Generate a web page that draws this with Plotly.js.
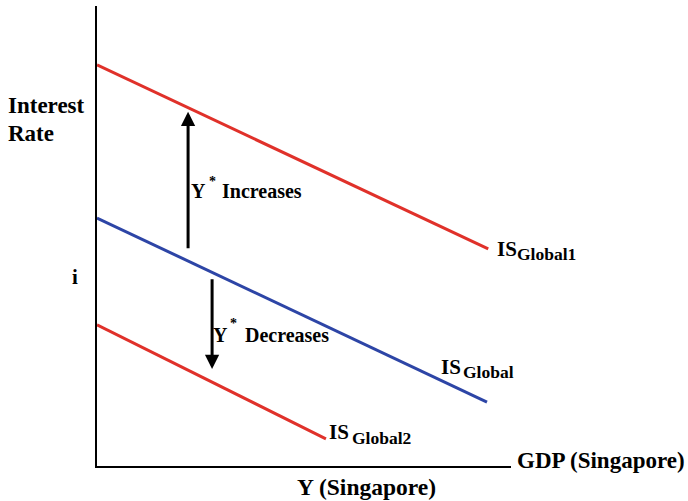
<!DOCTYPE html>
<html>
<head>
<meta charset="utf-8">
<script src="https://cdn.plot.ly/plotly-3.0.1.min.js"></script>
<style>html,body{margin:0;padding:0;background:#fff;}#chart{width:688px;height:501px;}</style>
</head>
<body>
<div id="chart"></div>
<script>
// Curve endpoints (conceptual units)
var isGlobal1X = [0, 9.45];
var isGlobal1Y = [8.72, 4.72];
var isGlobalX = [0, 9.42];
var isGlobalY = [5.39, 1.39];
var isGlobal2X = [0, 5.53];
var isGlobal2Y = [3.07, 0.59];

// Shift arrows: [x, tailY, tipY]
var upArrow = [2.2, 4.70, 7.70];
var downArrow = [2.78, 4.09, 2.11];

// Labels
var curveMain = ['IS', 'IS', 'IS'];
var curveSubs = ['Global1', 'Global', 'Global2'];
var yAxisLabel = ['Interest', 'Rate'];
var xAxisLabelRight = 'GDP (Singapore)';
var xAxisLabelBottom = 'Y (Singapore)';
var rateLabel = 'i';
var shiftWords = ['Increases', 'Decreases'];

var RED = '#e0312a', BLUE = '#2d45a6';
var FONT = 'Liberation Serif, Times New Roman, serif';

var traces = [
  {x: isGlobal1X, y: isGlobal1Y, mode: 'lines', line: {color: RED, width: 3}, hoverinfo: 'skip'},
  {x: isGlobalX, y: isGlobalY, mode: 'lines', line: {color: BLUE, width: 3}, hoverinfo: 'skip'},
  {x: isGlobal2X, y: isGlobal2Y, mode: 'lines', line: {color: RED, width: 3}, hoverinfo: 'skip'}
];

// label positions given in plot-fraction units (paper), may lie outside the plot area
function txt(t, x, y, size, xanchor) {
  return {text: '<b>' + t + '</b>', x: x, y: y, xref: 'paper', yref: 'paper', showarrow: false,
          xanchor: xanchor || 'left', yanchor: 'middle', borderpad: 0, borderwidth: 0,
          font: {family: FONT, size: size, color: '#000'}};
}
function arrow(a) {
  return {text: '', x: a[0], y: a[2], ax: a[0], ay: a[1], xref: 'x', yref: 'y', axref: 'x', ayref: 'y',
          showarrow: true, arrowhead: 2, arrowsize: 0.95, arrowwidth: 3, arrowcolor: '#000', standoff: 0, startstandoff: 0};
}

var annotations = [
  txt(yAxisLabel[0], -0.215, 0.784, 23),
  txt(yAxisLabel[1], -0.215, 0.723, 23),
  txt(rateLabel, -0.053, 0.411, 21, 'center'),
  txt(xAxisLabelRight, 1.0145, 0.011, 23),
  txt(xAxisLabelBottom, 0.652, -0.046, 23.5, 'center'),
  txt(curveMain[0], 0.966, 0.472, 21), txt(curveSubs[0], 1.014, 0.460, 17.5),
  txt(curveMain[1], 0.831, 0.216, 21), txt(curveSubs[1], 0.885, 0.204, 17.5),
  txt(curveMain[2], 0.560, 0.074, 21), txt(curveSubs[2], 0.615, 0.061, 17.5),
  txt('Y', 0.227, 0.598, 20), txt('*', 0.279, 0.618, 14, 'center'), txt(shiftWords[0], 0.303, 0.598, 20),
  txt('Y', 0.279, 0.285, 20), txt('*', 0.330, 0.310, 14, 'center'), txt(shiftWords[1], 0.357, 0.285, 20),
  arrow(upArrow), arrow(downArrow)
];

var layout = {
  width: 688, height: 501,
  margin: {l: 97, r: 177, t: 6, b: 35},
  paper_bgcolor: '#fff', plot_bgcolor: '#fff',
  showlegend: false,
  font: {family: FONT, color: '#000'},
  xaxis: {range: [0, 10], showgrid: false, zeroline: false, showticklabels: false, ticks: '',
          showline: true, linecolor: '#000', linewidth: 2, fixedrange: true},
  yaxis: {range: [0, 10], showgrid: false, zeroline: false, showticklabels: false, ticks: '',
          showline: true, linecolor: '#000', linewidth: 2, fixedrange: true},
  annotations: annotations
};

Plotly.newPlot('chart', traces, layout, {displayModeBar: false, staticPlot: true});
</script>
</body>
</html>
